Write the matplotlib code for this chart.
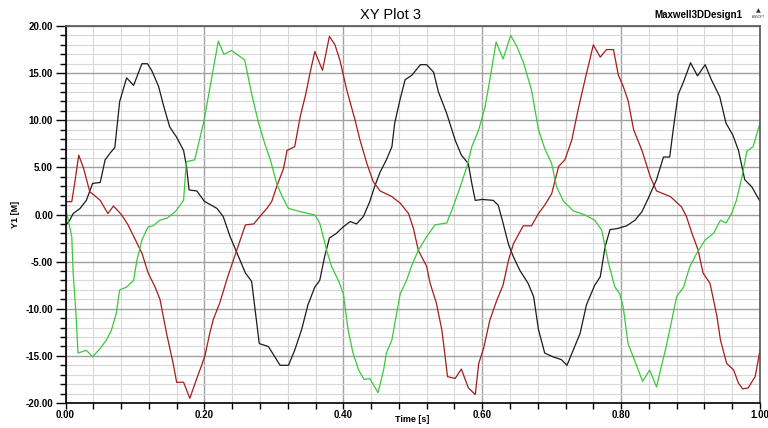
import numpy as np
import matplotlib.pyplot as plt
from matplotlib.ticker import MultipleLocator, FormatStrFormatter

plt.rcParams['font.family'] = ['Liberation Sans', 'DejaVu Sans']
plt.rcParams['axes.unicode_minus'] = False

# Curve 1 (black)
t_black = [0.000, 0.006, 0.011, 0.021, 0.030, 0.039, 0.050, 0.057, 0.064, 0.071,
           0.078, 0.088, 0.098, 0.110, 0.118, 0.124, 0.134, 0.141, 0.150, 0.160,
           0.170, 0.174, 0.178, 0.189, 0.200, 0.218, 0.227, 0.237, 0.247, 0.259,
           0.268, 0.273, 0.279, 0.292, 0.309, 0.321, 0.330, 0.340, 0.349, 0.359,
           0.366, 0.373, 0.380, 0.390, 0.400, 0.410, 0.419, 0.429, 0.438, 0.445,
           0.453, 0.462, 0.470, 0.474, 0.482, 0.489, 0.499, 0.511, 0.520, 0.530,
           0.537, 0.549, 0.561, 0.570, 0.580, 0.585, 0.590, 0.600, 0.616, 0.623,
           0.630, 0.638, 0.645, 0.654, 0.666, 0.674, 0.681, 0.690, 0.702, 0.714,
           0.722, 0.731, 0.741, 0.750, 0.762, 0.770, 0.777, 0.784, 0.794, 0.808,
           0.820, 0.830, 0.839, 0.851, 0.861, 0.870, 0.875, 0.882, 0.890, 0.900,
           0.910, 0.921, 0.930, 0.942, 0.951, 0.961, 0.969, 0.978, 0.988, 1.000]
v_black = [-1.2, -0.6, 0.1, 0.65, 1.5, 3.3, 3.4, 5.8, 6.5, 7.1,
           12.0, 14.5, 13.7, 16.0, 16.0, 15.3, 13.6, 11.6, 9.3, 8.2,
           6.8, 5.2, 2.6, 2.5, 1.4, 0.65, -0.2, -2.35, -4.1, -6.2,
           -7.1, -10.1, -13.7, -14.0, -16.0, -16.0, -14.4, -12.2, -9.6, -7.7,
           -7.0, -4.5, -2.5, -2.0, -1.3, -0.75, -1.0, -0.2, 1.35, 2.95,
           4.5, 5.8, 7.2, 9.7, 12.3, 14.3, 14.8, 15.9, 15.9, 15.1,
           13.0, 10.7, 7.9, 6.3, 5.4, 3.3, 1.5, 1.6, 1.5, 1.0,
           -0.9, -3.2, -4.5, -5.9, -7.3, -8.7, -12.2, -14.7, -15.1, -15.4,
           -16.0, -14.4, -12.6, -9.6, -7.5, -6.6, -3.4, -1.6, -1.5, -1.2,
           -0.6, 0.3, 1.7, 3.7, 6.1, 6.1, 9.0, 12.7, 14.1, 16.1,
           14.7, 15.9, 14.3, 12.5, 9.7, 8.4, 6.8, 3.7, 2.95, 1.4]

# Curve 2 (dark red)
t_red = [0.000, 0.009, 0.014, 0.019, 0.026, 0.035, 0.042, 0.050, 0.061, 0.069,
         0.081, 0.090, 0.102, 0.110, 0.119, 0.129, 0.136, 0.146, 0.155, 0.160,
         0.170, 0.179, 0.189, 0.196, 0.201, 0.208, 0.213, 0.222, 0.234, 0.247,
         0.259, 0.271, 0.280, 0.290, 0.297, 0.304, 0.314, 0.319, 0.330, 0.338,
         0.346, 0.352, 0.359, 0.370, 0.380, 0.388, 0.395, 0.405, 0.417, 0.424,
         0.434, 0.443, 0.453, 0.470, 0.482, 0.494, 0.501, 0.508, 0.520, 0.525,
         0.534, 0.542, 0.546, 0.550, 0.561, 0.570, 0.580, 0.590, 0.595, 0.602,
         0.611, 0.621, 0.630, 0.638, 0.645, 0.659, 0.671, 0.681, 0.690, 0.700,
         0.710, 0.719, 0.729, 0.738, 0.748, 0.760, 0.770, 0.779, 0.789, 0.796,
         0.803, 0.810, 0.818, 0.830, 0.842, 0.851, 0.871, 0.887, 0.894, 0.902,
         0.911, 0.918, 0.928, 0.938, 0.943, 0.952, 0.962, 0.969, 0.975, 0.983,
         0.993, 1.000]
v_red = [1.36, 1.36, 3.7, 6.3, 4.9, 2.4, 2.0, 1.5, 0.1, 0.9,
         -0.05, -1.1, -2.9, -4.1, -6.2, -7.7, -9.0, -12.8, -15.8, -17.8,
         -17.8, -19.5, -17.4, -16.0, -14.9, -12.5, -11.1, -9.4, -6.5, -3.7,
         -1.1, -1.0, -0.2, 0.65, 1.4, 2.95, 4.9, 6.8, 7.2, 10.4,
         12.8, 15.0, 17.3, 15.3, 18.9, 18.0, 16.4, 13.2, 10.0, 7.9,
         5.4, 3.5, 2.5, 1.9, 1.2, 0.1, -1.5, -3.8, -5.5, -7.3,
         -9.4, -12.3, -14.7, -17.2, -17.4, -16.4, -18.4, -19.1, -15.8, -14.2,
         -11.2, -9.1, -7.5, -4.8, -3.1, -1.2, -1.2, 0.1, 1.0, 2.2,
         5.1, 5.8, 7.9, 11.1, 14.3, 18.0, 16.7, 17.5, 17.5, 14.8,
         13.6, 12.1, 9.0, 6.8, 4.0, 2.5, 1.9, 0.8, -0.2, -2.0,
         -3.8, -6.2, -7.3, -10.8, -13.3, -15.8, -16.5, -17.9, -18.5, -18.4,
         -17.2, -14.4]

# Curve 3 (green)
t_green = [0.000, 0.004, 0.009, 0.011, 0.015, 0.018, 0.030, 0.039, 0.050, 0.059,
           0.066, 0.073, 0.078, 0.088, 0.098, 0.103, 0.110, 0.119, 0.126, 0.136,
           0.146, 0.158, 0.170, 0.174, 0.186, 0.199, 0.210, 0.220, 0.228, 0.239,
           0.258, 0.268, 0.278, 0.287, 0.295, 0.304, 0.312, 0.321, 0.338, 0.359,
           0.366, 0.376, 0.383, 0.393, 0.400, 0.407, 0.414, 0.422, 0.430, 0.438,
           0.450, 0.458, 0.462, 0.470, 0.475, 0.482, 0.491, 0.498, 0.508, 0.520,
           0.532, 0.549, 0.559, 0.570, 0.578, 0.585, 0.595, 0.604, 0.611, 0.620,
           0.630, 0.641, 0.650, 0.659, 0.671, 0.681, 0.690, 0.700, 0.707, 0.717,
           0.731, 0.748, 0.762, 0.772, 0.782, 0.791, 0.798, 0.803, 0.810, 0.820,
           0.831, 0.841, 0.851, 0.858, 0.865, 0.873, 0.880, 0.890, 0.899, 0.909,
           0.921, 0.933, 0.943, 0.951, 0.959, 0.966, 0.974, 0.981, 0.990, 1.000]
v_green = [0.7, -0.6, -2.35, -6.2, -10.5, -14.7, -14.4, -15.1, -14.2, -13.3,
           -12.3, -10.5, -8.0, -7.7, -7.0, -4.8, -2.7, -1.3, -1.2, -0.6,
           -0.4, 0.3, 1.5, 5.6, 5.8, 9.8, 14.3, 18.4, 17.0, 17.4,
           16.4, 12.8, 9.7, 7.5, 5.8, 3.3, 1.9, 0.65, 0.3, -0.05,
           -0.9, -3.8, -5.5, -7.0, -8.4, -12.3, -14.7, -16.5, -17.5, -17.4,
           -18.9, -16.5, -14.7, -13.3, -11.2, -8.4, -7.0, -5.5, -3.8, -2.35,
           -1.1, -0.9, 1.0, 3.3, 5.1, 7.2, 9.0, 11.4, 14.3, 18.3,
           16.5, 19.0, 17.8, 16.2, 13.2, 9.0, 7.0, 5.4, 2.95, 1.4,
           0.4, -0.05, -0.6, -1.65, -5.2, -7.7, -8.4, -9.8, -13.7, -15.6,
           -17.7, -16.5, -18.3, -16.1, -14.0, -11.2, -8.7, -7.7, -5.5, -4.1,
           -2.7, -2.0, -0.6, -0.9, 0.1, 1.5, 4.0, 6.7, 7.2, 9.7]

fig = plt.figure(figsize=(7.68, 4.28), dpi=100)
ax = fig.add_axes([0.0853, 0.0584, 0.9043, 0.8808])

ax.plot(t_black, v_black, color='#1c1c1c', lw=0.9)
ax.plot(t_red, v_red, color='#a51c1c', lw=0.9)
ax.plot(t_green, v_green, color='#3cc83c', lw=0.9)

ax.set_xlim(0, 1)
ax.set_ylim(-20, 20)

ax.xaxis.set_major_locator(MultipleLocator(0.2))
ax.xaxis.set_minor_locator(MultipleLocator(0.04))
ax.yaxis.set_major_locator(MultipleLocator(5))
ax.yaxis.set_minor_locator(MultipleLocator(1))
ax.xaxis.set_major_formatter(FormatStrFormatter('%.2f'))
ax.yaxis.set_major_formatter(FormatStrFormatter('%.2f'))

ax.grid(which='major', color='#a0a0a0', lw=1.0)
ax.grid(which='minor', color='#d8d8d8', lw=0.8)
ax.set_axisbelow(True)

ax.tick_params(axis='y', which='major', length=7, width=1, color='black', labelsize=7, pad=2)
ax.tick_params(axis='y', which='minor', length=4, width=1, color='black')
ax.tick_params(axis='x', which='both', length=4, width=1, color='black', labelsize=7, pad=1)
for lab in ax.get_xticklabels() + ax.get_yticklabels():
    lab.set_fontweight('bold')

for s in ['left', 'bottom']:
    ax.spines[s].set_color('black')
    ax.spines[s].set_linewidth(1.2)
for s in ['top', 'right']:
    ax.spines[s].set_color('#555555')
    ax.spines[s].set_linewidth(1.2)

ax.set_xlabel('Time [s]', fontsize=6.5, fontweight='bold', va='center')
ax.xaxis.set_label_coords((412 - 65.5) / 694.5, -(419 - 403) / 377, transform=ax.transAxes)
ax.set_ylabel('Y1 [M]', fontsize=6.5, fontweight='bold')
ax.yaxis.set_label_coords(-(65.5 - 20) / 694.5, 0.5, transform=ax.transAxes)

fig.text(390 / 768, 1 - 15 / 428, 'XY Plot 3', ha='center', va='center', fontsize=10.5)
fig.text(742 / 768, 1 - 15 / 428, 'Maxwell3DDesign1', ha='right', va='center',
         fontsize=7, fontweight='bold')
fig.text(758 / 768, 1 - 11 / 428, '\u25b2', ha='center', va='center', fontsize=4.5, color='#333333',
         family='DejaVu Sans')
fig.text(758 / 768, 1 - 17 / 428, 'ANSOFT', ha='center', va='center', fontsize=2.2, color='#333333')

fig.savefig('out.png', dpi=100, facecolor='white')
